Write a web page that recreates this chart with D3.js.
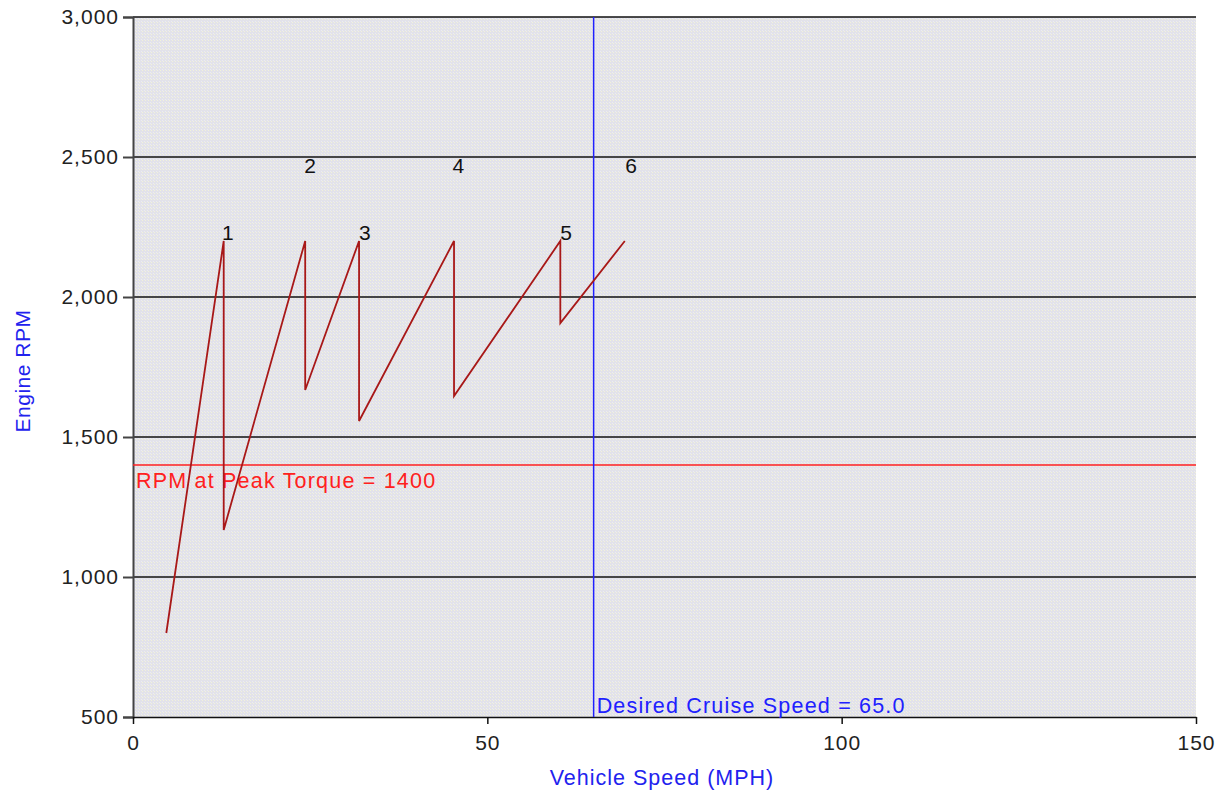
<!DOCTYPE html>
<html><head><meta charset="utf-8">
<script src="https://cdn.jsdelivr.net/npm/d3@7"></script>
<style>body{margin:0;background:#fff;font-family:"Liberation Sans",Arial,sans-serif;}</style>
</head><body>
<svg id="c" width="1223" height="792"></svg>
<script>
const speeds = [4.7, 12.8, 12.8, 24.3, 24.3, 31.9, 31.9, 45.3, 45.3, 60.3, 60.3, 69.4];
const rpms   = [800, 2200, 1168, 2200, 1668, 2200, 1557, 2200, 1646, 2200, 1907, 2200];
const gearLabels = ["1","2","3","4","5","6"];
const gearX = [13.4, 25.0, 32.7, 45.9, 61.1, 70.3];
const gearY = [2229, 2471, 2229, 2471, 2229, 2471];
const xTicks = [0, 50, 100, 150];
const yTicks = [500, 1000, 1500, 2000, 2500, 3000];
const peakTorque = 1400;
const cruiseSpeed = 65.0;

const FONT = "Liberation Sans, Arial, sans-serif";
const svg = d3.select("#c");
const m = {l:133, r:1196, t:17, b:717};
const x = d3.scaleLinear().domain([0,150]).range([m.l, m.r]);
const y = d3.scaleLinear().domain([500,3000]).range([m.b, m.t]);

const defs = svg.append("defs");
const pat = defs.append("pattern").attr("id","dith").attr("width",3).attr("height",3).attr("patternUnits","userSpaceOnUse");
pat.append("rect").attr("width",3).attr("height",3).attr("fill","#e2e2ea");
pat.append("rect").attr("x",1).attr("y",1).attr("width",1).attr("height",1).attr("fill","#f2f2da");
pat.append("rect").attr("x",0).attr("y",0).attr("width",1).attr("height",1).attr("fill","#ededef");

svg.append("rect").attr("x",m.l).attr("y",m.t).attr("width",m.r-m.l).attr("height",m.b-m.t).attr("fill","url(#dith)");

// grid
svg.append("g").selectAll("line").data(yTicks.filter(d=>d>500)).join("line")
  .attr("x1",m.l).attr("x2",m.r).attr("y1",d=>y(d)).attr("y2",d=>y(d))
  .attr("stroke","#111").attr("stroke-width",1.5);

// axes
const yAxis = d3.axisLeft(y).tickValues(yTicks).tickFormat(d3.format(",")).tickSize(10).tickPadding(4);
const gy = svg.append("g").attr("transform",`translate(${m.l},0)`).call(yAxis);
gy.select(".domain").attr("stroke","#444").attr("stroke-width",2);
gy.selectAll(".tick line").attr("stroke","#444").attr("stroke-width",2);
gy.selectAll("text").attr("font-size",21).attr("letter-spacing",1).attr("fill","#222").attr("font-family",FONT);

const xAxis = d3.axisBottom(x).tickValues(xTicks).tickSize(7).tickPadding(11).tickSizeOuter(0);
const gx = svg.append("g").attr("transform",`translate(0,${m.b})`).call(xAxis);
gx.select(".domain").attr("stroke","#111").attr("stroke-width",1.5);
gx.selectAll(".tick line").attr("stroke","#111").attr("stroke-width",1.5);
gx.selectAll("text").attr("font-size",21).attr("letter-spacing",1).attr("fill","#222").attr("font-family",FONT);

// reference lines
svg.append("line").attr("x1",m.l).attr("x2",m.r).attr("y1",y(peakTorque)).attr("y2",y(peakTorque))
  .attr("stroke","#ff2020").attr("stroke-width",1.5);
svg.append("text").attr("x",m.l+3).attr("y",y(peakTorque)+23).attr("fill","#ff2020")
  .attr("font-size",21.5).attr("letter-spacing",1.2).text("RPM at Peak Torque = " + peakTorque);
svg.append("line").attr("x1",x(cruiseSpeed)).attr("x2",x(cruiseSpeed)).attr("y1",m.t).attr("y2",m.b)
  .attr("stroke","#2020ff").attr("stroke-width",1.5);
svg.append("text").attr("x",x(cruiseSpeed)+3).attr("y",m.b-4).attr("fill","#2020ff")
  .attr("font-size",21.5).attr("letter-spacing",1.2).text("Desired Cruise Speed = " + cruiseSpeed.toFixed(1));

// data line
const pts = speeds.map((s,i)=>[s,rpms[i]]);
svg.append("path").datum(pts).attr("fill","none").attr("stroke","#a81818").attr("stroke-width",1.8)
  .attr("d", d3.line().x(d=>x(d[0])).y(d=>y(d[1])));

// gear labels
svg.append("g").selectAll("text").data(gearLabels).join("text")
  .attr("x",(d,i)=>x(gearX[i])).attr("y",(d,i)=>y(gearY[i])).attr("dy","0.36em")
  .attr("text-anchor","middle").attr("font-size",21).attr("fill","#111").text(d=>d);

// axis titles
svg.append("text").attr("x",662).attr("y",785).attr("text-anchor","middle")
  .attr("fill","#2222ee").attr("font-size",21.5).attr("letter-spacing",1).text("Vehicle Speed (MPH)");
svg.append("text").attr("transform",`translate(30,371) rotate(-90)`).attr("text-anchor","middle")
  .attr("fill","#2222ee").attr("font-size",21).attr("letter-spacing",0.5).text("Engine RPM");
</script>
</body></html>
